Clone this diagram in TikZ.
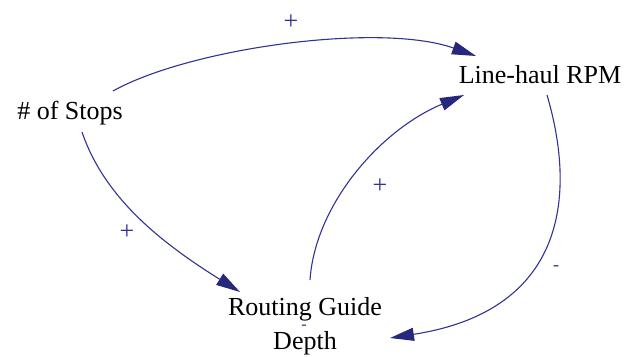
\documentclass[tikz,border=0pt]{standalone}
\usepackage{fontspec}
\setmainfont{Liberation Serif}
\usetikzlibrary{arrows.meta}
\definecolor{linkc}{RGB}{50,50,150}
\definecolor{headc}{RGB}{38,40,125}
\begin{document}
\begin{tikzpicture}[x=1pt,y=-1pt,
  var/.style={font=\fontsize{26}{34}\selectfont, inner sep=0pt, align=center, text=black},
  pol/.style={font=\fontsize{26}{26}\selectfont, text=linkc, inner sep=0pt},
  link/.style={draw=linkc, line width=1.1pt, -{Triangle[length=24pt,width=13pt,fill=headc,color=headc]}}]
\useasboundingbox (0,0) rectangle (628,356);
\node[var] (stops) at (70,113) {\# of Stops};
\node[var] (rpm) at (540,75) {Line-haul RPM};
\node[var] (rgd) at (305,326) {Routing Guide\\Depth};
\node[pol] (p1) at (291,22) {+};
\node[pol] (p2) at (380,186) {+};
\node[pol] (p3) at (127,232) {+};
\node[pol, font=\fontsize{18}{18}\selectfont] (m1) at (556,268) {-};
\node[pol, font=\fontsize{16}{16}\selectfont] (m2) at (304,327) {-};
\coordinate (a1s) at (113,91);
\coordinate (a1e) at (476,56);
\coordinate (a2s) at (82,132);
\coordinate (a2e) at (240,292);
\coordinate (a3s) at (310,280);
\coordinate (a3e) at (464,95);
\coordinate (a4s) at (547,95);
\coordinate (a4e) at (390,338);
\draw[link] (a1s) .. controls (190,48) and (380,22) .. (a1e);
\draw[link] (a2s) .. controls (105,200) and (165,245) .. (a2e);
\draw[link] (a3s) .. controls (315,205) and (380,130) .. (a3e);
\draw[link] (a4s) .. controls (575,190) and (570,310) .. (a4e);
\end{tikzpicture}
\end{document}
